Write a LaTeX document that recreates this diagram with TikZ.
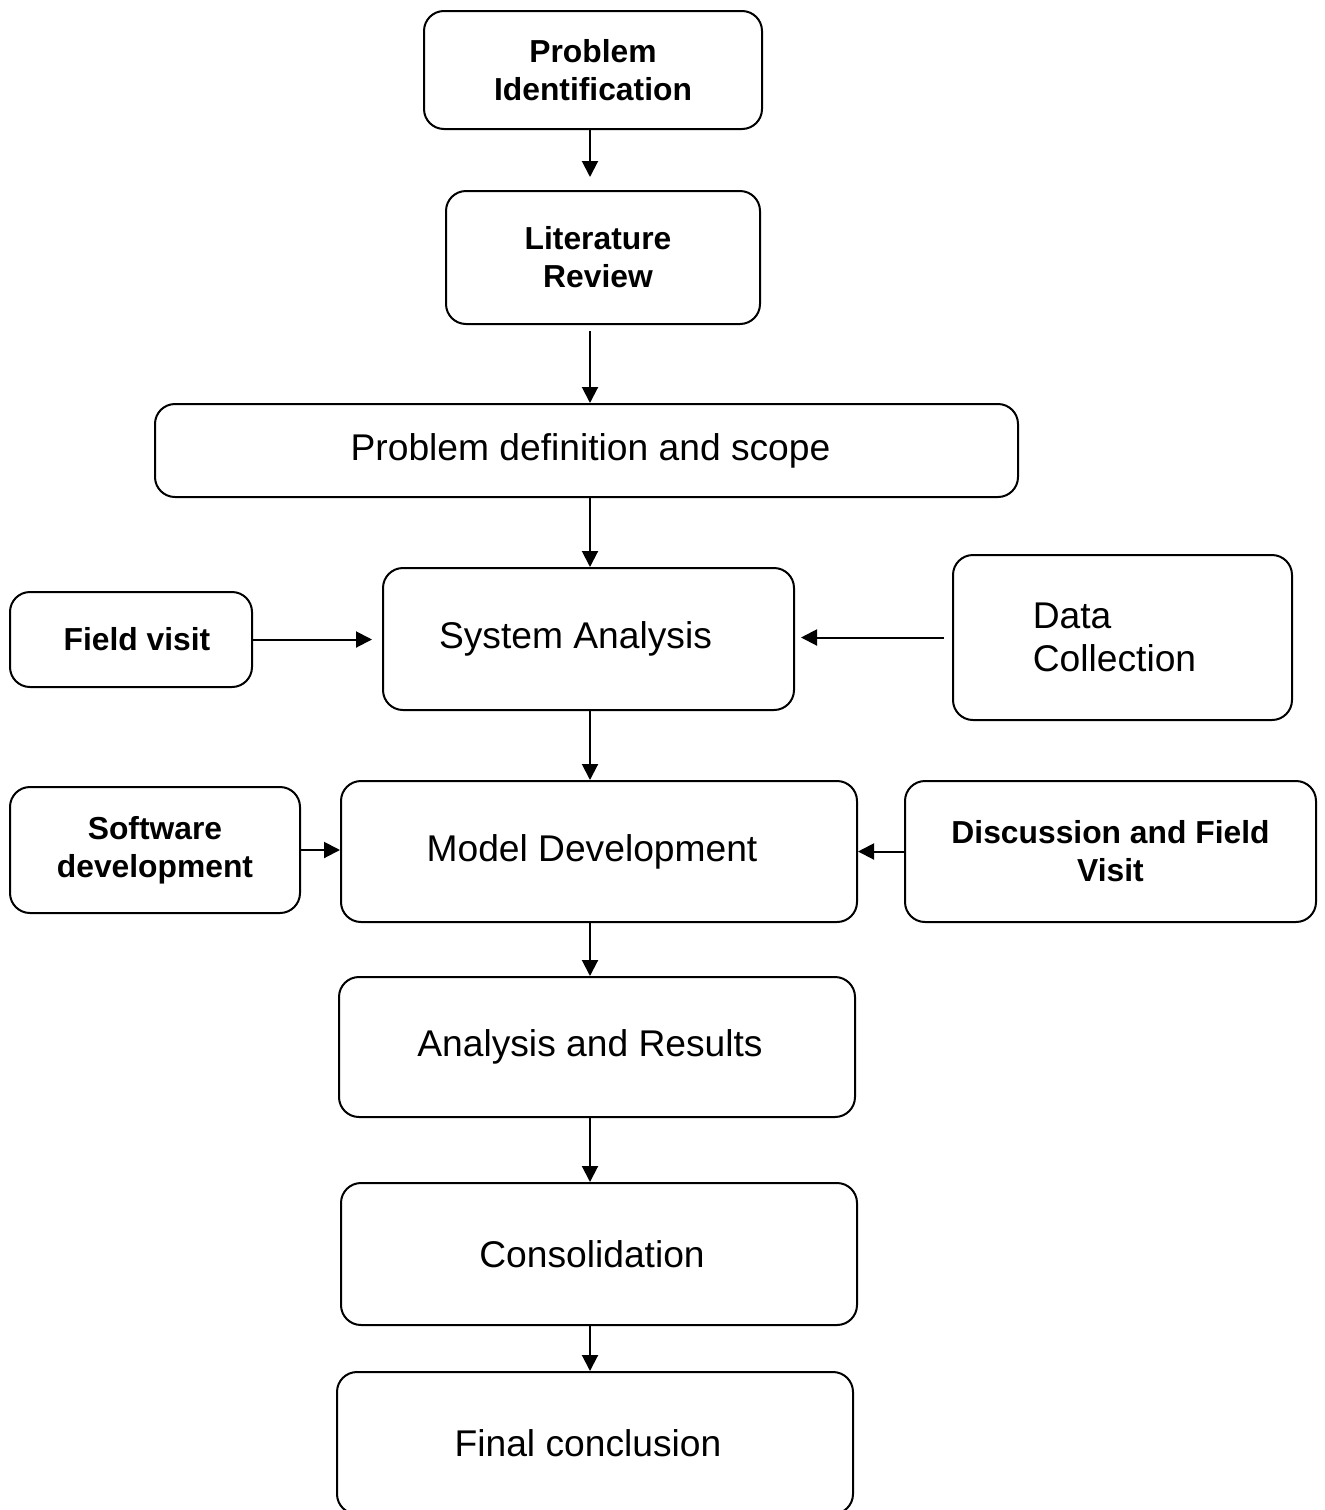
\documentclass[tikz,border=0pt]{standalone}
\usepackage{fontspec}
\setmainfont{Liberation Sans}
\usepackage{tikz}
\usetikzlibrary{positioning,arrows.meta,calc}

\begin{document}
\begin{tikzpicture}[
  x=0.5pt,
  y=-0.5pt,
  stage/.style={rounded corners=10pt, draw=black, line width=1pt, align=center,
    font=\fontsize{18.6}{21.5}\selectfont},
  boldstage/.style={rounded corners=10pt, draw=black, line width=1pt, align=center,
    font=\fontsize{15.9}{19}\selectfont\bfseries},
  arrow/.style={-{Triangle[length=8pt,width=8pt]}, line width=1pt, draw=black}
]
\useasboundingbox (0,0) rectangle (1324,1510);
\coordinate (spine) at (590,0);

\node[boldstage, minimum width=169pt, minimum height=59pt] (ident) at (593,70) {Problem\\Identification};
\node[boldstage, minimum width=157pt, minimum height=66.5pt] (review) at (603,257.5) {Literature\hspace*{5pt}\\Review\hspace*{5pt}};
\node[stage, minimum width=431.5pt, minimum height=46.5pt] (scope) at (586.5,450.5) {\hspace*{4pt}Problem definition and scope};
\node[stage, minimum width=205.5pt, minimum height=71pt] (sysana) at (588.5,639) {System Analysis\hspace*{13pt}};
\node[boldstage, minimum width=121pt, minimum height=47.5pt] (field) at (131,639.5) {\hspace*{6pt}Field visit};
\node[stage, align=left, minimum width=169.5pt, minimum height=82.5pt] (datacoll) at (1122.5,637.5) {Data\\Collection\hspace*{8pt}};
\node[boldstage, minimum width=145pt, minimum height=63pt] (software) at (155,850) {Software\\development};
\node[stage, minimum width=258pt, minimum height=70.5pt] (model) at (599,851.5) {Model Development\hspace*{7pt}};
\node[boldstage, minimum width=205.5pt, minimum height=70.5pt] (discuss) at (1110.5,851.5) {Discussion and Field\\Visit};
\node[stage, minimum width=258pt, minimum height=70pt] (results) at (597,1047) {Analysis and Results\hspace*{7pt}};
\node[stage, minimum width=258pt, minimum height=71pt] (consol) at (599,1254) {Consolidation\hspace*{7pt}};
\node[stage, minimum width=258pt, minimum height=71pt] (final) at (595,1443) {Final conclusion\hspace*{7pt}};

\draw[arrow, shorten >=6.5pt] (ident.south -| spine) -- (review.north -| spine);
\draw[arrow, shorten <=3pt] (review.south -| spine) -- (scope.north -| spine);
\draw[arrow] (scope.south -| spine) -- (sysana.north -| spine);
\draw[arrow] (sysana.south -| spine) -- (model.north -| spine);
\draw[arrow] (model.south -| spine) -- (results.north -| spine);
\draw[arrow] (results.south -| spine) -- (consol.north -| spine);
\draw[arrow] (consol.south -| spine) -- (final.north -| spine);

\draw[arrow, shorten >=5pt] (field.east) -- (field.east -| sysana.west);
\draw[arrow, shorten <=4pt, shorten >=3pt] (datacoll.west) -- (datacoll.west -| sysana.east);
\draw[arrow] (software.east) -- (software.east -| model.west);
\draw[arrow] (discuss.west) -- (discuss.west -| model.east);
\end{tikzpicture}
\end{document}
